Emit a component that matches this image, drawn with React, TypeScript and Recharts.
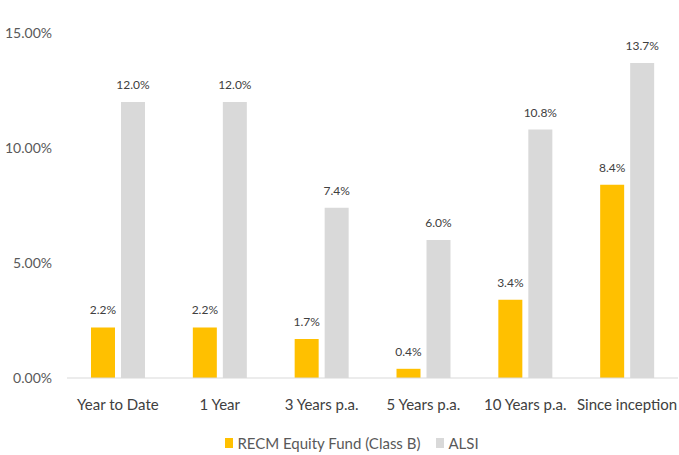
import React from 'react';
import { BarChart, Bar, XAxis, YAxis, Legend, LabelList } from 'recharts';

const categories = ['Year to Date', '1 Year', '3 Years p.a.', '5 Years p.a.', '10 Years p.a.', 'Since inception'];
const recmValues = [2.2, 2.2, 1.7, 0.4, 3.4, 8.4];
const alsiValues = [12.0, 12.0, 7.4, 6.0, 10.8, 13.7];
const yTicks = [0, 5, 10, 15];
const seriesNames = ['RECM Equity Fund (Class B)', 'ALSI'];
const seriesColors = ['#FFC000', '#D9D9D9'];

const data = categories.map((c, i) => ({ name: c, recm: recmValues[i], alsi: alsiValues[i] }));

const FONT = 'Lato, "Open Sans", sans-serif';

const renderLegend = () => (
  <div style={{ display: 'flex', justifyContent: 'center', alignItems: 'center', fontFamily: FONT, fontSize: 15, color: '#595959', paddingLeft: 26 }}>
    {seriesNames.map((n, i) => (
      <div key={n} style={{ display: 'flex', alignItems: 'center', marginRight: i === 0 ? 16 : 0 }}>
        <span style={{ display: 'inline-block', width: 8, height: 10, background: seriesColors[i], marginRight: 4 }} />
        <span>{n}</span>
      </div>
    ))}
  </div>
);

export default function App() {
  return (
    <div style={{ position: 'absolute', left: 0, top: 0, background: '#fff' }}>
      <BarChart
        width={679}
        height={455}
        data={data}
        margin={{ top: 33, right: 1, left: 0, bottom: 3 }}
        barGap={6}
        barCategoryGap="24%"
      >
        <XAxis
          dataKey="name"
          axisLine={{ stroke: '#D9D9D9' }}
          tickLine={false}
          tickMargin={15}
          tick={{ fill: '#404040', fontSize: 15, fontFamily: FONT }}
          interval={0}
          height={56}
        />
        <YAxis
          domain={[0, 15]}
          ticks={yTicks}
          width={67}
          axisLine={false}
          tickLine={false}
          tickSize={0}
          tickMargin={15}
          tickFormatter={(v: number) => v.toFixed(2) + '%'}
          tick={{ fill: '#595959', fontSize: 14, fontFamily: FONT }}
        />
        <Legend verticalAlign="bottom" content={renderLegend} />
        <Bar dataKey="recm" name={seriesNames[0]} fill={seriesColors[0]} barSize={24} isAnimationActive={false}>
          <LabelList dataKey="recm" position="top" offset={13} formatter={(v: number) => v.toFixed(1) + '%'} style={{ fill: '#404040', fontSize: 12, fontFamily: FONT }} />
        </Bar>
        <Bar dataKey="alsi" name={seriesNames[1]} fill={seriesColors[1]} barSize={24} isAnimationActive={false}>
          <LabelList dataKey="alsi" position="top" offset={13} formatter={(v: number) => v.toFixed(1) + '%'} style={{ fill: '#404040', fontSize: 12, fontFamily: FONT }} />
        </Bar>
      </BarChart>
    </div>
  );
}
